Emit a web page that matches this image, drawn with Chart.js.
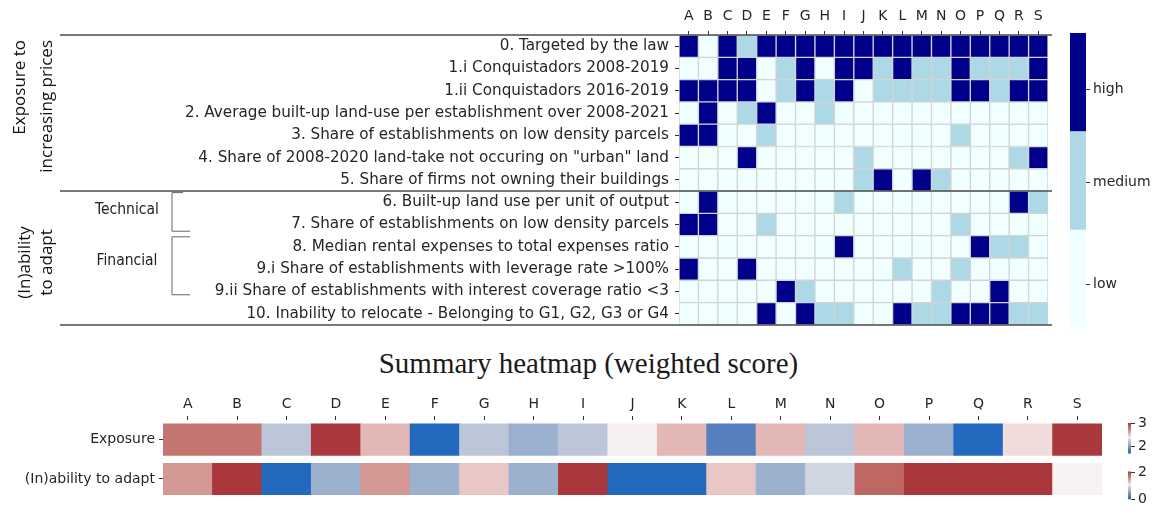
<!DOCTYPE html>
<html>
<head>
<meta charset="utf-8">
<script src="https://cdn.jsdelivr.net/npm/chart.js@4.4.1/dist/chart.umd.min.js"></script>
<style>
  html, body { margin: 0; padding: 0; background: #fff; }
  #wrap { position: relative; width: 1157px; height: 511px; overflow: hidden; }
  canvas { position: absolute; }
  #title {
    position: absolute; left: 0; width: 1177px; top: 346px;
    text-align: center; line-height: 34px;
    font-family: 'Liberation Serif', serif; font-size: 29px; color: #1a1a1a;
  }
</style>
</head>
<body>
<div id="wrap">
  <canvas id="indicators" width="1157" height="340" style="left:0;top:0"></canvas>
  <canvas id="levelBar" width="107" height="340" style="left:1050px;top:0"></canvas>
  <div id="title">Summary heatmap (weighted score)</div>
  <canvas id="summary" width="1157" height="126" style="left:0;top:385px"></canvas>
  <canvas id="expBar" width="52" height="55" style="left:1105px;top:410px"></canvas>
  <canvas id="adaptBar" width="52" height="51" style="left:1105px;top:460px"></canvas>
</div>
<script>
// --- data -------------------------------------------------------------
const companies = ['A','B','C','D','E','F','G','H','I','J','K','L','M','N','O','P','Q','R','S'];

const indicators = [
  '0. Targeted by the law',
  '1.i Conquistadors 2008-2019',
  '1.ii Conquistadors 2016-2019',
  '2. Average built-up land-use per establishment over 2008-2021',
  '3. Share of establishments on low density parcels',
  '4. Share of 2008-2020 land-take not occuring on "urban" land',
  '5. Share of firms not owning their buildings',
  '6. Built-up land use per unit of output',
  '7. Share of establishments on low density parcels',
  '8. Median rental expenses to total expenses ratio',
  '9.i Share of establishments with leverage rate >100%',
  '9.ii Share of establishments with interest coverage ratio <3',
  '10. Inability to relocate - Belonging to G1, G2, G3 or G4',
];

// 0 = low, 1 = medium, 2 = high
const law0        = [2,0,2,1,2,2,2,2,2,2,2,2,2,2,2,2,2,2,2];
const conq1i      = [0,0,2,2,0,1,2,0,2,2,1,2,1,1,2,1,1,1,2];
const conq1ii     = [2,2,2,2,0,1,2,1,2,0,1,1,1,1,2,2,1,2,2];
const landUse2    = [0,2,0,1,2,0,0,1,0,0,0,0,0,0,0,0,0,0,0];
const lowDens3    = [2,2,0,0,1,0,0,0,0,0,0,0,0,0,1,0,0,0,0];
const landTake4   = [0,0,0,2,0,0,0,0,0,1,0,0,0,0,0,0,0,1,2];
const notOwning5  = [0,0,0,0,0,0,0,0,0,1,2,0,2,1,0,0,0,0,0];
const landOutput6 = [0,2,0,0,0,0,0,0,1,0,0,0,0,0,0,0,0,2,1];
const lowDens7    = [2,2,0,0,1,0,0,0,0,0,0,0,0,0,1,0,0,0,0];
const rental8     = [0,0,0,0,0,0,0,0,2,0,0,0,0,0,0,2,1,1,0];
const leverage9i  = [2,0,0,2,0,0,0,0,0,0,0,1,0,0,1,0,0,0,0];
const coverage9ii = [0,0,0,0,0,2,1,0,0,0,0,0,0,1,0,0,2,0,0];
const relocate10  = [0,0,0,0,2,0,2,1,1,0,0,2,1,1,2,2,2,1,1];

const scoreRows = [law0, conq1i, conq1ii, landUse2, lowDens3, landTake4, notOwning5,
                   landOutput6, lowDens7, rental8, leverage9i, coverage9ii, relocate10];

const levelNames = ['low', 'medium', 'high'];
const levelTickPos = [0.45, 1.48, 2.43];

const summaryRows = ['Exposure', '(In)ability to adapt'];
const exposureScore = [2.77,2.77,2.22,3.00,2.56,1.70,2.22,2.09,2.22,2.38,2.56,1.90,2.56,2.22,2.56,2.09,1.70,2.43,3.00];
const adaptScore    = [1.50,2.05,0.00,0.62,1.50,0.62,1.23,0.62,2.05,0.00,0.00,1.23,0.62,0.94,1.80,2.05,2.05,2.05,1.07];
const exposureRange = [1.7, 3.0];
const adaptRange    = [0, 2.05];
const exposureTicks = [2, 3];
const adaptTicks    = [0, 2];

// --- styles -----------------------------------------------------------
const LEVEL_COLOURS = ['#f0ffff', '#add8e6', '#00008b'];
const VLAG = [
  [0.00, '#2369bd'], [0.15, '#5580be'], [0.30, '#9bb0ce'], [0.40, '#bdc6d8'],
  [0.46, '#d0d5e2'], [0.52, '#f8f2f2'], [0.60, '#e8c7c6'], [0.66, '#e2b8b6'],
  [0.73, '#d39995'], [0.82, '#c47672'], [0.88, '#bf6663'], [1.00, '#a9373b'],
];
const TXT = '#262626';
const SANS = "'DejaVu Sans', sans-serif";

function hex(c) { return [1, 3, 5].map(i => parseInt(c.slice(i, i + 2), 16)); }
function vlag(t) {
  t = Math.max(0, Math.min(1, t));
  for (let i = 1; i < VLAG.length; i++) {
    if (t <= VLAG[i][0]) {
      const [t0, c0] = VLAG[i - 1], [t1, c1] = VLAG[i];
      const f = (t - t0) / (t1 - t0), a = hex(c0), b = hex(c1);
      return 'rgb(' + a.map((v, k) => Math.round(v + (b[k] - v) * f)).join(',') + ')';
    }
  }
  return VLAG[VLAG.length - 1][1];
}

Chart.defaults.font.family = SANS;
Chart.defaults.color = TXT;

const tickGrid = { drawOnChartArea: false, offset: false, tickLength: 4, color: '#333', lineWidth: 1 };
const noLegend = { legend: { display: false }, tooltip: { enabled: false } };

// group labels, separators and brackets left of the indicator heatmap
const groupDecor = {
  id: 'groupDecor',
  afterDraw(chart) {
    const { ctx } = chart;
    const y = chart.scales.y;
    const py = v => y.getPixelForValue(v);
    ctx.save();
    ctx.strokeStyle = '#4d4d4d';
    ctx.lineWidth = 1.5;
    [0, 7, 13].forEach(v => {
      ctx.beginPath(); ctx.moveTo(60, py(v)); ctx.lineTo(1052, py(v)); ctx.stroke();
    });

    ctx.fillStyle = '#111';
    ctx.font = "17px 'Open Sans', sans-serif";
    ctx.textBaseline = 'middle';
    ctx.save();
    ctx.translate(20, py(0) + 5); ctx.rotate(-Math.PI / 2);
    ctx.textAlign = 'right'; ctx.fillText('Exposure to', 0, 0);
    ctx.restore();
    ctx.save();
    ctx.translate(47, py(0) + 5); ctx.rotate(-Math.PI / 2);
    ctx.textAlign = 'right'; ctx.fillText('increasing prices', 0, 0);
    ctx.restore();
    ctx.save();
    ctx.translate(25, py(10.2)); ctx.rotate(-Math.PI / 2);
    ctx.textAlign = 'center'; ctx.fillText('(In)ability', 0, 0);
    ctx.restore();
    ctx.save();
    ctx.translate(47, py(10.2)); ctx.rotate(-Math.PI / 2);
    ctx.textAlign = 'center'; ctx.fillText('to adapt', 0, 0);
    ctx.restore();

    ctx.font = "15.5px 'Liberation Sans Narrow', 'DejaVu Sans Condensed', sans-serif";
    ctx.fillStyle = '#222';
    ctx.textAlign = 'center';
    ctx.fillText('Technical', 127, py(7.85));
    ctx.fillText('Financial', 127, py(10.15));

    ctx.strokeStyle = '#666';
    ctx.lineWidth = 1;
    const bracket = (top, bottom, hook) => {
      ctx.beginPath();
      ctx.moveTo(172 + hook, top); ctx.lineTo(172, top);
      ctx.lineTo(172, bottom); ctx.lineTo(190, bottom);
      ctx.stroke();
    };
    bracket(py(7) + 1.5, py(8.8), 11);
    bracket(py(9.05), py(11.65), 18);
    ctx.restore();
  }
};

// --- indicator heatmap ------------------------------------------------
new Chart(document.getElementById('indicators'), {
  type: 'bar',
  data: {
    labels: companies,
    datasets: scoreRows.map((row, r) => ({
      label: indicators[r],
      data: row.map(() => [r, r + 1]),
      backgroundColor: row.map(v => LEVEL_COLOURS[v]),
    })),
  },
  options: {
    responsive: false,
    animation: false,
    layout: { padding: { left: 0, right: 109, top: 0, bottom: 7 } },
    datasets: { bar: { grouped: false, barPercentage: 1, categoryPercentage: 1,
                       borderWidth: 1, borderColor: '#d3d3d3', borderSkipped: false } },
    plugins: noLegend,
    scales: {
      x: {
        position: 'top',
        grid: tickGrid,
        border: { display: false },
        ticks: { padding: 6, font: { size: 14 } },
        afterFit: s => { s.height = 35; },
      },
      y: {
        min: 0, max: 13, reverse: true,
        grid: tickGrid,
        border: { display: false },
        afterBuildTicks: s => { s.ticks = indicators.map((_, i) => ({ value: i + 0.5 })); },
        ticks: { autoSkip: false, padding: 6, font: { size: 15.2 }, callback: (v, i) => indicators[i] },
        afterFit: s => { s.width = 679; },
      },
    },
  },
  plugins: [groupDecor],
});

// --- low / medium / high colour bar -----------------------------------
new Chart(document.getElementById('levelBar'), {
  type: 'bar',
  data: {
    labels: [''],
    datasets: levelNames.map((n, i) => ({ label: n, data: [[i, i + 1]], backgroundColor: LEVEL_COLOURS[i] })),
  },
  options: {
    responsive: false,
    animation: false,
    layout: { padding: { left: 20, right: 0, top: 33, bottom: 7 } },
    datasets: { bar: { grouped: false, barPercentage: 1, categoryPercentage: 1, borderWidth: 0 } },
    plugins: noLegend,
    scales: {
      x: { display: false },
      y: {
        position: 'right', min: 0, max: 3,
        grid: tickGrid,
        border: { display: false },
        afterBuildTicks: s => { s.ticks = levelTickPos.map(v => ({ value: v })); },
        ticks: { padding: 3, font: { size: 14 }, callback: (v, i) => levelNames[i] },
        afterFit: s => { s.width = 71; },
      },
    },
  },
});

// --- summary heatmap --------------------------------------------------
const expNorm = v => (v - exposureRange[0]) / (exposureRange[1] - exposureRange[0]);
const adaptNorm = v => (v - adaptRange[0]) / (adaptRange[1] - adaptRange[0]);

new Chart(document.getElementById('summary'), {
  type: 'bar',
  data: {
    labels: companies,
    datasets: [
      { label: summaryRows[0], data: exposureScore.map(() => [0.1, 0.9]), backgroundColor: exposureScore.map(v => vlag(expNorm(v))) },
      { label: summaryRows[1], data: adaptScore.map(() => [1.1, 1.9]), backgroundColor: adaptScore.map(v => vlag(adaptNorm(v))) },
    ],
  },
  options: {
    responsive: false,
    animation: false,
    layout: { padding: { left: 0, right: 55, top: 0, bottom: 3 } },
    datasets: { bar: { grouped: false, barPercentage: 1, categoryPercentage: 1, borderWidth: 0 } },
    plugins: noLegend,
    scales: {
      x: {
        position: 'top',
        grid: tickGrid,
        border: { display: false },
        ticks: { padding: 3, font: { size: 14 } },
        afterFit: s => { s.height = 35; },
      },
      y: {
        min: 0, max: 2, reverse: true,
        grid: tickGrid,
        border: { display: false },
        afterBuildTicks: s => { s.ticks = summaryRows.map((_, i) => ({ value: i + 0.5 })); },
        ticks: { autoSkip: false, padding: 4, font: { size: 14 }, callback: (v, i) => summaryRows[i] },
        afterFit: s => { s.width = 163; },
      },
    },
  },
});

// --- thin score colour bars -------------------------------------------
function vlagGradient(ctx) {
  const { chart } = ctx;
  const area = chart.chartArea;
  if (!area) return null;
  const g = chart.ctx.createLinearGradient(0, area.bottom, 0, area.top);
  VLAG.forEach(([t, c]) => g.addColorStop(t, c));
  return g;
}

function scoreBar(id, range, ticks, pad) {
  new Chart(document.getElementById(id), {
    type: 'bar',
    data: { labels: [''], datasets: [{ data: [range], backgroundColor: vlagGradient }] },
    options: {
      responsive: false,
      animation: false,
      layout: { padding: pad },
      datasets: { bar: { barPercentage: 1, categoryPercentage: 1, borderWidth: 0 } },
      plugins: noLegend,
      scales: {
        x: { display: false },
        y: {
          position: 'right', min: range[0], max: range[1],
          grid: tickGrid,
          border: { display: false },
          afterBuildTicks: s => { s.ticks = ticks.map(v => ({ value: v })); },
          ticks: { padding: 3, font: { size: 14 } },
          afterFit: s => { s.width = 26; },
        },
      },
    },
  });
}
scoreBar('expBar', exposureRange, exposureTicks, { left: 23, right: 0, top: 13, bottom: 7 });
scoreBar('adaptBar', adaptRange, adaptTicks, { left: 23, right: 0, top: 8, bottom: 6 });
</script>
</body>
</html>
